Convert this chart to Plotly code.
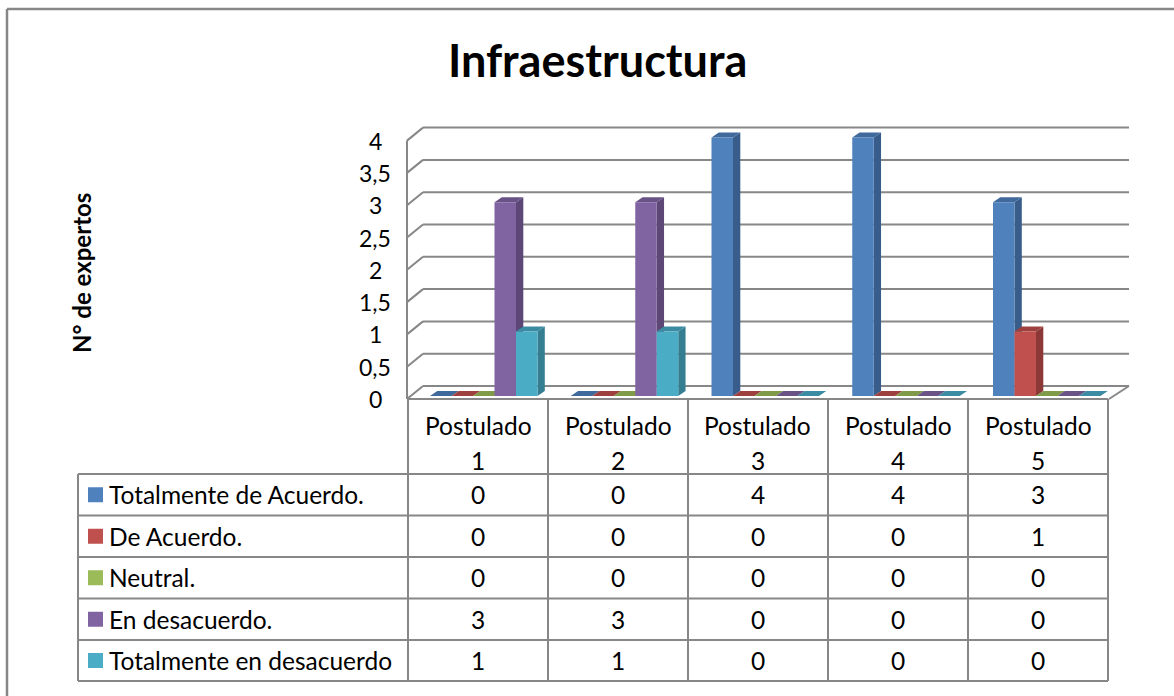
import plotly.graph_objects as go

# ---------------- data ----------------
title_text = "Infraestructura"
y_title = "N° de expertos"
cat_top = ["Postulado", "Postulado", "Postulado", "Postulado", "Postulado"]
cat_num = ["1", "2", "3", "4", "5"]
series_names = ["Totalmente de Acuerdo.", "De Acuerdo.", "Neutral.", "En desacuerdo.",
                "Totalmente en desacuerdo"]
tot_acuerdo = [0, 0, 4, 4, 3]
de_acuerdo = [0, 0, 0, 0, 1]
neutral = [0, 0, 0, 0, 0]
en_desacuerdo = [3, 3, 0, 0, 0]
tot_desacuerdo = [1, 1, 0, 0, 0]
series_values = [tot_acuerdo, de_acuerdo, neutral, en_desacuerdo, tot_desacuerdo]
y_ticks = [0, 0.5, 1, 1.5, 2, 2.5, 3, 3.5, 4]
y_tick_labels = ["0", "0,5", "1", "1,5", "2", "2,5", "3", "3,5", "4"]

# ---------------- style ----------------
front_cols = ["#4F81BD", "#C0504D", "#9BBB59", "#8064A2", "#4BACC6"]
side_cols = ["#385D8A", "#8C3836", "#71893F", "#5C4776", "#357D91"]
top_cols = ["#40699C", "#9E403D", "#7F9B49", "#685286", "#3B8CA3"]
GRID = "#878787"
FONT = "Lato"

W, H = 1174, 696
CAT_PX = 140.0
CAT0 = 408.0
FRONT0 = 399.0
PPU = 64.6
BACK_DY = 13.0


def xd(px):
    return 0.5 + (px - CAT0) / CAT_PX


def yd(py):
    return (FRONT0 - py) / PPU


def xp(px):
    return px / W


def yp(py):
    return 1 - py / H


fig = go.Figure()
shapes = []
annotations = []

# back wall gridlines + left diagonals
back_off = BACK_DY / PPU
for v in y_ticks:
    shapes.append(dict(type="line", xref="x", yref="y", x0=xd(423), x1=xd(1129),
                       y0=v + back_off, y1=v + back_off, line=dict(color=GRID, width=2), layer="below"))
    shapes.append(dict(type="line", xref="x", yref="y", x0=xd(407), x1=xd(423),
                       y0=v, y1=v + back_off, line=dict(color=GRID, width=2), layer="below"))
shapes.append(dict(type="line", xref="x", yref="y", x0=xd(407), x1=xd(407),
                   y0=0, y1=max(y_ticks), line=dict(color=GRID, width=2), layer="below"))
# floor right edge
shapes.append(dict(type="line", xref="x", yref="y", x0=xd(1109), x1=xd(1129),
                   y0=0, y1=back_off, line=dict(color=GRID, width=2), layer="below"))

# bars
bw_px = 21.5
bw = bw_px / CAT_PX
ddx = 7.3 / CAT_PX
ddy = 5.0 / PPU
base = 3.0 / PPU
for j, (name, vals) in enumerate(zip(series_names, series_values)):
    xs = []
    for i in range(len(vals)):
        left_px = CAT0 + CAT_PX * i + 22 + 0.75 * i + bw_px * j
        xs.append(xd(left_px + bw_px / 2))
    for x, v in zip(xs, vals):
        xl, xr = x - bw / 2, x + bw / 2
        top = base + v
        if v > 0:
            shapes.append(dict(type="path", xref="x", yref="y", layer="below",
                               path=f"M{xr},{base} L{xr+ddx},{base+ddy} L{xr+ddx},{top+ddy} L{xr},{top} Z",
                               fillcolor=side_cols[j], line=dict(width=0)))
        shapes.append(dict(type="path", xref="x", yref="y", layer="below",
                           path=f"M{xl},{top} L{xl+ddx},{top+ddy} L{xr+ddx},{top+ddy} L{xr},{top} Z",
                           fillcolor=top_cols[j], line=dict(width=0)))
    fig.add_trace(go.Bar(x=xs, y=vals, base=[base] * len(vals), width=bw, name=name,
                         marker=dict(color=front_cols[j], line=dict(width=0)),
                         showlegend=False))

# y tick labels
for v, t in zip(y_ticks, y_tick_labels):
    annotations.append(dict(xref="paper", yref="y", x=xp(375), y=v, text=t, showarrow=False,
                            xanchor="center", yanchor="middle", font=dict(family=FONT, size=23, color="black")))

# title and axis title
annotations.append(dict(xref="paper", yref="paper", x=xp(597), y=yp(60), text=f"<b>{title_text}</b>",
                        showarrow=False, xanchor="center", yanchor="middle",
                        font=dict(family=FONT, size=45, color="black")))
annotations.append(dict(xref="paper", yref="paper", x=xp(82), y=yp(273), text=f"<b>{y_title}</b>",
                        showarrow=False, xanchor="center", yanchor="middle", textangle=-90,
                        font=dict(family=FONT, size=24, color="black")))

# data table
col_x = [CAT0 + CAT_PX * k for k in range(6)]
row_y = [474, 515.5, 557, 598.5, 640, 681]
TL = dict(color=GRID, width=2)
shapes.append(dict(type="line", xref="paper", yref="paper", x0=xp(col_x[0]), x1=xp(col_x[-1]),
                   y0=yp(FRONT0), y1=yp(FRONT0), line=TL))
for cx in col_x:
    shapes.append(dict(type="line", xref="paper", yref="paper", x0=xp(cx), x1=xp(cx),
                       y0=yp(FRONT0), y1=yp(row_y[-1]), line=TL))
for ry in row_y:
    shapes.append(dict(type="line", xref="paper", yref="paper", x0=xp(78), x1=xp(col_x[-1]),
                       y0=yp(ry), y1=yp(ry), line=TL))
shapes.append(dict(type="line", xref="paper", yref="paper", x0=xp(78), x1=xp(78),
                   y0=yp(row_y[0]), y1=yp(row_y[-1]), line=TL))

tf = dict(family=FONT, size=24.5, color="black")
for k in range(5):
    cxm = (col_x[k] + col_x[k + 1]) / 2
    annotations.append(dict(xref="paper", yref="paper", x=xp(cxm), y=yp(425), text=cat_top[k],
                            showarrow=False, xanchor="center", yanchor="middle", font=tf))
    annotations.append(dict(xref="paper", yref="paper", x=xp(cxm), y=yp(460), text=cat_num[k],
                            showarrow=False, xanchor="center", yanchor="middle", font=tf))
for j, (name, vals) in enumerate(zip(series_names, series_values)):
    rc = (row_y[j] + row_y[j + 1]) / 2
    shapes.append(dict(type="rect", xref="paper", yref="paper", x0=xp(88), x1=xp(103),
                       y0=yp(rc - 7.5), y1=yp(rc + 7.5), fillcolor=front_cols[j], line=dict(width=0)))
    annotations.append(dict(xref="paper", yref="paper", x=xp(107), y=yp(rc), text=name,
                            showarrow=False, xanchor="left", yanchor="middle", font=tf))
    for k, v in enumerate(vals):
        cxm = (col_x[k] + col_x[k + 1]) / 2
        annotations.append(dict(xref="paper", yref="paper", x=xp(cxm), y=yp(rc), text=str(v),
                                showarrow=False, xanchor="center", yanchor="middle", font=tf))

# chart border (left and top)
shapes.append(dict(type="line", xref="paper", yref="paper", x0=xp(7), x1=xp(7), y0=yp(9), y1=0,
                   line=dict(color=GRID, width=2.5)))
shapes.append(dict(type="line", xref="paper", yref="paper", x0=xp(7), x1=1, y0=yp(9), y1=yp(9),
                   line=dict(color=GRID, width=2.5)))

fig.update_layout(
    width=W, height=H, margin=dict(l=0, r=0, t=0, b=0),
    paper_bgcolor="white", plot_bgcolor="rgba(0,0,0,0)",
    barmode="overlay", showlegend=False,
    xaxis=dict(domain=[xp(398), xp(1140)], range=[xd(398), xd(1140)], visible=False, fixedrange=True),
    yaxis=dict(domain=[yp(402), yp(110)], range=[yd(402), yd(110)], visible=False, fixedrange=True),
    shapes=shapes, annotations=annotations,
    font=dict(family=FONT, color="black"),
)

fig.write_html("out.html", config=dict(displayModeBar=False),
               post_script="document.body.style.margin='0';document.body.style.overflow='hidden';")
